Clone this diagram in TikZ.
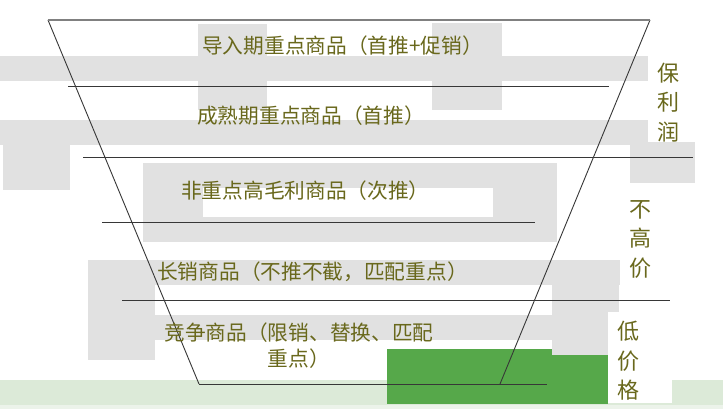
\documentclass[tikz,border=0pt]{standalone}
\usepackage{fontspec}
\setmainfont{Noto Sans CJK SC}
\definecolor{bggray}{RGB}{225,225,225}
\definecolor{txtolive}{RGB}{105,104,28}
\definecolor{grn}{RGB}{86,168,74}
\definecolor{lgrn}{RGB}{220,234,216}
\definecolor{lgrn2}{RGB}{236,243,234}
\definecolor{linegray}{RGB}{128,128,128}
\definecolor{linedark}{RGB}{55,55,55}
\begin{document}
\begin{tikzpicture}[x=1pt,y=-1pt,
  ghost/.style={fill=bggray,draw=none},
  rule/.style={draw=linedark,line width=0.9pt},
  toprule/.style={draw=linegray,line width=1.6pt},
  lbl/.style={text=txtolive,font=\fontsize{20.7}{26.5}\selectfont,inner sep=0pt},
  side/.style={text=txtolive,font=\fontsize{22}{29.5}\selectfont,inner sep=0pt,align=center},
  ]
\useasboundingbox (0,0) rectangle (723,409);
\fill[white] (0,0) rectangle (723,409);
% bottom light strip
\fill[lgrn] (0,380) rectangle (723,405);
\fill[lgrn2] (0,405) rectangle (723,409);
% green box
\fill[grn] (387,349) rectangle (608,404);
% large gray background strokes
\fill[ghost] (0,56) rectangle (648,81);
\fill[ghost] (198,24) rectangle (267,110);
\fill[ghost] (432,23) rectangle (502,110);
\fill[ghost] (0,120) rectangle (648,145);
\fill[ghost] (3,120) rectangle (70,190);
\fill[ghost] (630,142) rectangle (695,183);
\fill[ghost] (143,163) rectangle (557,242);
\fill[white] (203,188) rectangle (493,217);
\fill[ghost] (88,260) rectangle (620,285);
\fill[ghost] (88,260) rectangle (155,360);
\fill[ghost] (155,315) rectangle (552,340);
\fill[ghost] (552,285) rectangle (619,355);
% white box behind the lowest side label
\fill[white] (608,312) rectangle (672,403);
% funnel outline
\coordinate (TL) at (48,20);
\coordinate (TR) at (650,20);
\coordinate (BL) at (199,384);
\coordinate (BR) at (500,384);
\coordinate (BE) at (547,384);
\coordinate (h1a) at (68,86);   \coordinate (h1b) at (609,86);
\coordinate (h2a) at (83,157);  \coordinate (h2b) at (693,157);
\coordinate (h3a) at (102,222); \coordinate (h3b) at (535,222);
\coordinate (h4a) at (122,300); \coordinate (h4b) at (670,300);
\draw[rule] (h1a) -- (h1b);
\draw[rule] (h2a) -- (h2b);
\draw[rule] (h3a) -- (h3b);
\draw[rule] (h4a) -- (h4b);
\draw[rule] (TL) -- (BL);
\draw[rule] (TR) -- (BR);
\draw[rule] (BL) -- (BE);
\draw[toprule] (TL) -- (TR);
% texts
\node[lbl,anchor=west] (t1) at (202,46) {导入期重点商品（首推+促销）};
\node[lbl,anchor=west] (t2) at (197,116) {成熟期重点商品（首推）};
\node[lbl,anchor=west] (t3) at (181,191) {非重点高毛利商品（次推）};
\node[lbl,anchor=west] (t4) at (157,272) {长销商品（不推不截，匹配重点）};
\node[lbl,align=center] (t5) at (299,345.5) {竞争商品（限销、替换、匹配\\重点）};
\node[side] (s1) at (668.5,102.5) {保\\利\\润};
\node[side] (s2) at (640,239) {不\\高\\价};
\node[side] (s3) at (628.5,361) {低\\价\\格};
\end{tikzpicture}
\end{document}
